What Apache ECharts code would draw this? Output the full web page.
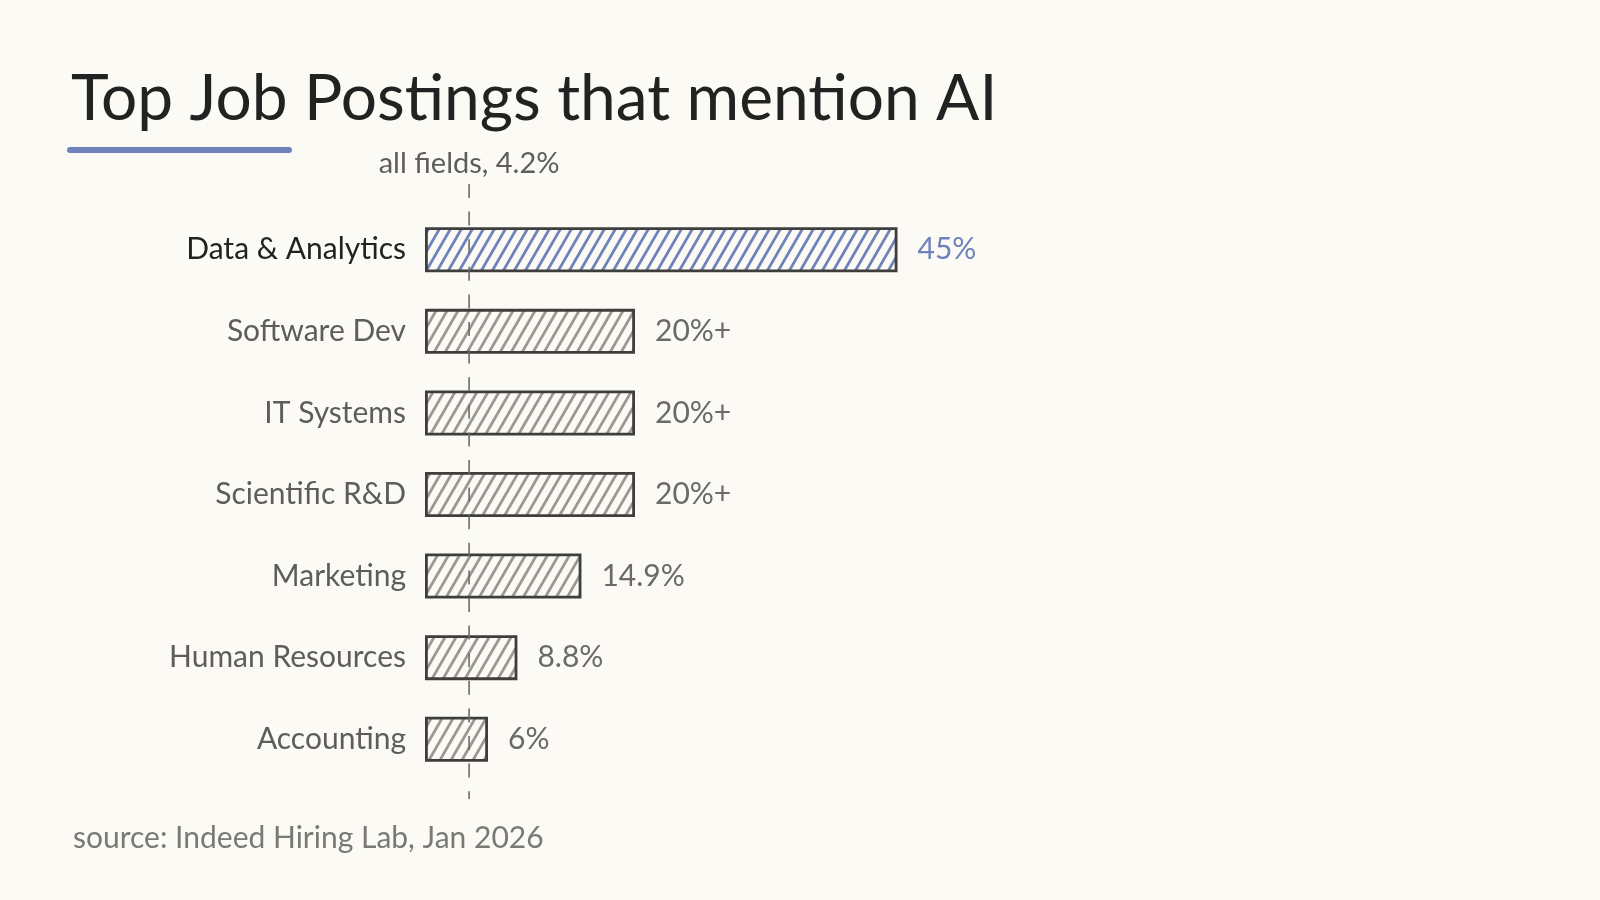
<!DOCTYPE html>
<html>
<head>
<meta charset="utf-8">
<script src="https://cdn.jsdelivr.net/npm/echarts@6/dist/echarts.min.js"></script>
<style>
  html, body { margin: 0; padding: 0; background: #fbfaf5; }
  #chart { width: 1600px; height: 900px; }
</style>
</head>
<body>
<div id="chart"></div>
<script>
var categories = ['Data & Analytics', 'Software Dev', 'IT Systems', 'Scientific R&D', 'Marketing', 'Human Resources', 'Accounting']
var shares = [45, 20, 20, 20, 14.9, 8.8, 6]
var shareLabels = ['45%', '20%+', '20%+', '20%+', '14.9%', '8.8%', '6%']
var allFields = 4.2

var FONT = 'Lato'
var BLUE = '#6f82bb'
var GREY = '#9a9892'

// diagonal hatch fill, like the sketchy bars
function hatch(color) {
  var w = 11, h = 19
  var c = document.createElement('canvas')
  c.width = w
  c.height = h
  var ctx = c.getContext('2d')
  ctx.strokeStyle = color
  ctx.lineWidth = 2.8
  ctx.lineCap = 'square'
  ;[-w, 0, w].forEach(function (dx) {
    ctx.beginPath()
    ctx.moveTo(dx, h)
    ctx.lineTo(dx + w, 0)
    ctx.stroke()
  })
  return { image: c, repeat: 'repeat' }
}

var chart = echarts.init(document.getElementById('chart'))

var barData = shares.map(function (v, i) {
  var first = i === 0
  return {
    value: v,
    itemStyle: { color: hatch(first ? BLUE : GREY) },
    label: { color: first ? BLUE : '#6b6a66' }
  }
})

var option = {
  backgroundColor: '#fbfaf5',
  animation: false,
  title: [
    {
      text: 'Top Job Postings that mention AI',
      left: 66,
      top: 62,
      textStyle: { fontFamily: FONT, fontSize: 64, fontWeight: 'normal', color: '#222' }
    },
    {
      text: 'source: Indeed Hiring Lab, Jan 2026',
      left: 68,
      top: 818,
      textStyle: { fontFamily: FONT, fontSize: 30, fontWeight: 'normal', color: '#7a7974' }
    }
  ],
  graphic: [
    {
      type: 'rect',
      shape: { x: 67, y: 147, width: 225, height: 6, r: 3 },
      style: { fill: BLUE }
    }
  ],
  grid: [
    { left: 425, width: 1050, top: 209, height: 571 },
    { left: 425, width: 1050, top: 184, height: 615 }
  ],
  xAxis: [
    { gridIndex: 0, type: 'value', min: 0, max: 100, show: false },
    { gridIndex: 1, type: 'value', min: 0, max: 100, show: false }
  ],
  yAxis: [
    {
      gridIndex: 0,
      type: 'category',
      data: categories,
      inverse: true,
      axisLine: { show: false },
      axisTick: { show: false },
      axisLabel: {
        margin: 19,
        fontFamily: FONT,
        fontSize: 30,
        color: function (v, i) { return i === 0 ? '#222' : '#5e5d59' }
      }
    },
    { gridIndex: 1, type: 'value', min: 0, max: 1, show: false }
  ],
  series: [
    {
      type: 'bar',
      xAxisIndex: 0,
      yAxisIndex: 0,
      data: barData,
      barWidth: 45,
      itemStyle: { borderColor: '#3f3e3b', borderWidth: 2.8 },
      label: {
        show: true,
        position: 'right',
        distance: 20,
        fontFamily: FONT,
        fontSize: 30,
        formatter: function (p) { return shareLabels[p.dataIndex] }
      },
      z: 2
    },
    {
      type: 'line',
      xAxisIndex: 1,
      yAxisIndex: 1,
      data: [
        {
          value: [allFields, 1],
          label: {
            show: true,
            position: 'top',
            distance: 6,
            fontFamily: FONT,
            fontSize: 29,
            color: '#5e5d59',
            formatter: 'all fields, ' + allFields + '%'
          }
        },
        [allFields, 0]
      ],
      symbol: 'circle',
      symbolSize: 0,
      showSymbol: true,
      lineStyle: { color: '#6b6a66', width: 1.6, type: [14, 13.6] },
      z: 3
    }
  ]
}

chart.setOption(option)
</script>
</body>
</html>
